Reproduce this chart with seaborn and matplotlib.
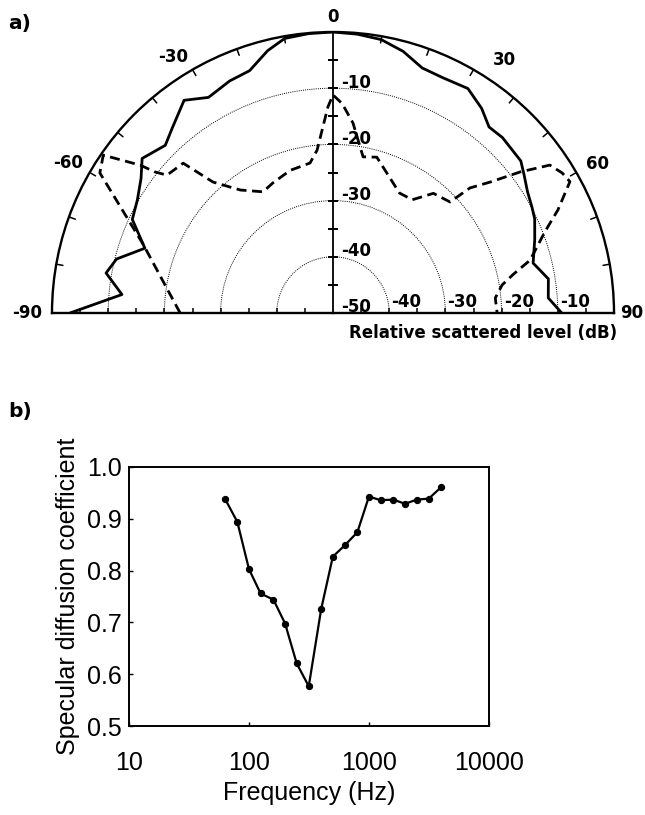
import numpy as np
import pandas as pd
import matplotlib
matplotlib.use("Agg")
import matplotlib.pyplot as plt
import seaborn as sns

sns.set_theme(style="ticks")
plt.rcParams['font.family'] = ['Liberation Sans', 'DejaVu Sans']
plt.rcParams.update({"text.color": "black", "axes.labelcolor": "black",
                     "xtick.color": "black", "ytick.color": "black"})

# a) scattered level vs angle (deg), dB re. max
solid_angle = [-90, -85, -80, -76, -71, -65, -60, -55, -51, -45, -41, -35, -30, -24, -19, -14, -10, -5,
               0, 5, 10, 15, 20, 25, 31, 36, 40, 44, 51, 54, 58, 62, 65, 70, 76, 81, 86, 90]
solid_level = [-3.2, -12.3, -9.0, -10.3, -14.6, -10.6, -9.8, -8.3, -6.3, -7.8, -6.4, -3.8, -5.7, -4.8, -4.4, -1.9, -0.4, -0.1,
               0, -0.2, -0.6, -1.8, -3.6, -3.8, -3.4, -5.0, -6.8, -6.6, -7.0, -8.0, -9.2, -9.9, -10.4, -11.8, -13.3, -11.2, -11.6, -9.3]

dash_angle = [-90, -70, -59, -55.5, -52.5, -51.6, -50.3, -45, -42.5, -37, -30, -24.8, -16.7, -8.7, -5.6, -1.4,
              0, 2.5, 6, 10.9, 15.7, 21, 29, 35, 40, 46.5, 47.6, 50.2, 53, 55.7, 58.6, 61, 65.4, 69, 75, 78, 80.6, 84.7, 90]
dash_level = [-22.8, -14.0, -1.6, -0.4, -6.8, -9.6, -11.6, -12.3, -18.4, -22.6, -25.1, -24.5, -23.5, -23.0, -20.9, -13.3,
              -11.2, -12.7, -16.0, -21.7, -21.2, -23.3, -25.6, -25.4, -22.2, -21.3, -17.0, -13.6, -8.3, -3.3, -2.2, -1.8, -6.0, -9.6, -13.7, -17.3, -19.5, -21.0, -20.8]

r_min, r_max = -50, 0
ring_levels = [-50, -40, -30, -20, -10]
angle_ticks = [-90, -60, -30, 0, 30, 60, 90]
# where the angle labels sit (deg, dB beyond the rim)
angle_label_pos = [-90, -60.5, -32, 0, 34, 60.5, 90]
angle_label_gap = [4.4, 4.1, 3.7, 2.6, 4.4, 4.0, 3.2]

# b) specular diffusion coefficient
freq = [63, 80, 100, 125, 160, 200, 250, 315, 400, 500, 630, 800, 1000, 1250, 1600, 2000, 2500, 3150, 4000]
coef = [0.939, 0.894, 0.803, 0.756, 0.744, 0.698, 0.621, 0.577, 0.726, 0.827, 0.849, 0.874, 0.943,
        0.936, 0.937, 0.929, 0.937, 0.939, 0.961]

bold_a = dict(family=["DejaVu Sans"], fontweight="bold", fontsize=12, color="black")

fig = plt.figure(figsize=(6.45, 8.15), dpi=100)

# ---- panel a
# half-disc sits in the middle of a square box: radius = side/2
ax = fig.add_axes([52 / 645, 1 - 453.5 / 815, 562 / 645, 562 / 815], projection="polar")
ax.set_theta_zero_location("N")
ax.set_theta_direction(-1)
ax.set_thetamin(-90)
ax.set_thetamax(90)
ax.set_rlim(r_min, r_max)

df_s = pd.DataFrame({"theta": np.deg2rad(solid_angle), "level": solid_level})
df_d = pd.DataFrame({"theta": np.deg2rad(dash_angle), "level": dash_level})
sns.lineplot(data=df_s, x="theta", y="level", sort=False, estimator=None, ax=ax, color="black", lw=2.0)
sns.lineplot(data=df_d, x="theta", y="level", sort=False, estimator=None, ax=ax, color="black", lw=2.0,
             dashes=False, linestyle=(0, (3.6, 2.0)))

ax.set_xlabel("")
ax.set_ylabel("")
ax.set_yticks(ring_levels[1:])
ax.set_yticklabels([])
ax.yaxis.grid(True, linestyle=(0, (1, 1.2)), color="black", lw=0.7)
ax.xaxis.grid(False)
ax.tick_params(axis="y", length=0)
ax.set_xticks(np.deg2rad(angle_ticks))
ax.set_xticklabels([])
ax.tick_params(axis="x", length=0)

for sp in ax.spines.values():
    sp.set_color("black")
    sp.set_linewidth(1.7)

# ticks on the rim every 10 deg, pointing inwards
for a in np.arange(-80, 90, 10):
    if a != 0:
        ax.plot(np.deg2rad([a, a]), [r_max - 1.2, r_max], color="black", lw=1.1)

for a, pos, gap in zip(angle_ticks, angle_label_pos, angle_label_gap):
    ax.text(np.deg2rad(pos), r_max + gap, str(a), ha="center", va="center", clip_on=False, **bold_a)

# vertical axis with ticks every 5 dB
ax.plot([0, 0], [r_min, r_max], color="black", lw=1.3)
minor_r = np.arange(r_min + 5, r_max, 5)
ax.plot(np.zeros(len(minor_r)), minor_r, ls="", marker="_", ms=7, mew=1.1, color="black")
ax.plot(np.full(len(minor_r), np.pi / 2), minor_r, ls="", marker="|", ms=7, mew=1.1, color="black")
ax.plot(np.full(len(minor_r), -np.pi / 2), minor_r, ls="", marker="|", ms=7, mew=1.1, color="black")

for lvl in ring_levels:
    ax.annotate(str(lvl), xy=(0, lvl), xytext=(6, 4), textcoords="offset points",
                ha="left", va="center", **bold_a)
    if lvl != r_min:
        ax.annotate(str(lvl), xy=(np.pi / 2, lvl), xytext=(1.5, 8), textcoords="offset points",
                    ha="left", va="center", **bold_a)

fig.text(617 / 645, 1 - 333 / 815, "Relative scattered level (dB)", ha="right", va="center", **bold_a)
fig.text(8 / 645, 1 - 23 / 815, "a)", ha="left", va="center", family=["DejaVu Sans"],
         fontsize=14.5, fontweight="bold")

# ---- panel b
bx = fig.add_axes([0.2, 0.109, 0.558, 0.318])
df_b = pd.DataFrame({"freq": freq, "coef": coef})
sns.lineplot(data=df_b, x="freq", y="coef", ax=bx, color="black", lw=1.6, marker="o", ms=4.5,
             markeredgecolor="black")
bx.set_xscale("log")
bx.set_xlim(10, 10000)
bx.set_ylim(0.5, 1.0)
bx.set_xticks([10, 100, 1000, 10000])
bx.set_xticklabels(["10", "100", "1000", "10000"])
bx.xaxis.set_minor_locator(matplotlib.ticker.NullLocator())
bx.set_yticks(np.arange(0.5, 1.01, 0.1))
bx.set_yticklabels([f"{v:.1f}" for v in np.arange(0.5, 1.01, 0.1)])
bx.tick_params(axis="both", direction="in", length=3, width=1, labelsize=18, colors="black")
bx.tick_params(axis="x", pad=18)
bx.tick_params(axis="y", pad=5)
for sp in bx.spines.values():
    sp.set_color("black")
    sp.set_linewidth(1.4)
bx.set_xlabel("Frequency (Hz)", fontsize=18)
bx.set_ylabel("Specular diffusion coefficient", fontsize=18)
bx.xaxis.set_label_coords(0.5, -0.21)
bx.yaxis.set_label_coords(-0.136, 0.5)
fig.text(8 / 645, 1 - 412 / 815, "b)", ha="left", va="center", family=["DejaVu Sans"],
         fontsize=14.5, fontweight="bold")

fig.savefig("out.png", dpi=100, facecolor="white")
